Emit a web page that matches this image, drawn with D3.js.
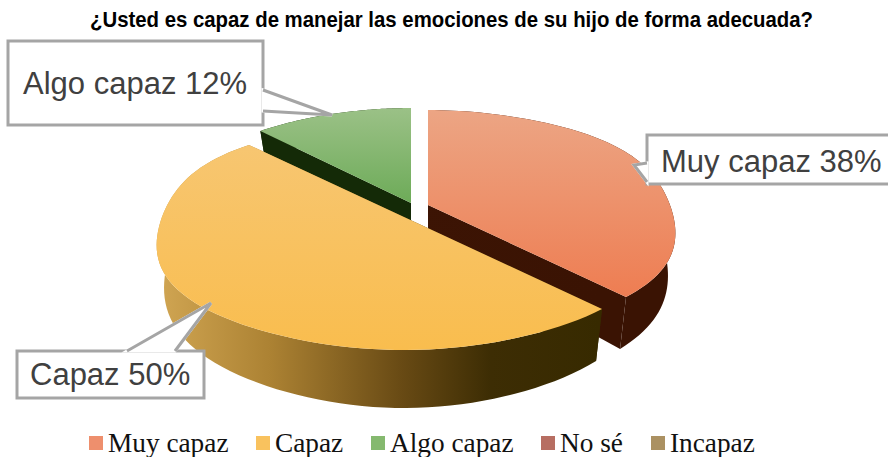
<!doctype html>
<html>
<head>
<meta charset="utf-8">
<title>Manejo de emociones</title>
<style>
  html, body { margin: 0; padding: 0; background: #fff; }
  svg { display: block; }
</style>
<script src="https://cdnjs.cloudflare.com/ajax/libs/d3/7.8.5/d3.min.js"></script>
</head>
<body>
<script>
// data
var titleText = "¿Usted es capaz de manejar las emociones de su hijo de forma adecuada?";
var categories = ["Muy capaz", "Capaz", "Algo capaz", "No sé", "Incapaz"];
var values = [38, 50, 12, 0, 0];
var legendColors = ["#ee8f6d", "#f9c25e", "#85b96f", "#b76e62", "#ab9162"];

// layout of the exploded slices, and the callouts
var width = 888, height = 457;
var persp = { a: 242, b: 110.8, k: 0.167, dropY: 38.6, scaleX: 0.97, scaleY: 1.146 };
var apex = { "Muy capaz": [428, 205], "Capaz": [404, 217], "Algo capaz": [411, 203] };
var bulge = { "Muy capaz": 0.05, "Capaz": 0.05, "Algo capaz": 0.02 };
var drawOrder = ["Algo capaz", "Muy capaz", "Capaz"];
var topStops = {
  "Muy capaz": ["#eca584", "#ee7d52"],
  "Capaz": ["#f7c671", "#f9bd4e"],
  "Algo capaz": ["#9bc187", "#6dab58"]
};
var sideStops = {
  "Muy capaz": [[0, "#3f1505"], [1, "#3a1303"]],
  "Capaz": [[0, "#d0a552"], [0.25, "#ac8233"], [0.55, "#684a14"], [0.75, "#3d2d04"], [1, "#372a00"]],
  "Algo capaz": [[0, "#142a07"], [1, "#142a07"]]
};
var callouts = [
  { cat: "Algo capaz", box: [8, 41, 263, 125], ptr: [[263, 90], [332, 115], [263, 111]], tx: 23, ty: 94 },
  { cat: "Muy capaz", box: [647, 135, 893, 184], ptr: [[647, 163], [634, 165], [647, 182]], tx: 661, ty: 172 },
  { cat: "Capaz", box: [17, 351, 204, 398], ptr: [[127, 351], [211, 303], [175, 351]], tx: 30, ty: 385 }
];
var legendX = [89, 256, 371, 541, 651];

var svg = d3.select("body").append("svg")
  .attr("width", width)
  .attr("height", height);
var defs = svg.append("defs");

svg.append("text")
  .attr("x", 90).attr("y", 27)
  .attr("font-family", "Liberation Sans")
  .attr("font-weight", "bold")
  .attr("font-size", 22)
  .attr("textLength", 723)
  .attr("lengthAdjust", "spacingAndGlyphs")
  .attr("fill", "#000")
  .text(titleText);

var pie = d3.pie().sort(null).startAngle(0).endAngle(2 * Math.PI);
var arcs = pie(values);
var line = d3.line();

// circle in the pie's plane -> screen, with some perspective
function project(theta, cat, bottom) {
  var p = apex[cat];
  var x = Math.sin(theta), y = -Math.cos(theta);
  var d = 1 - persp.k * y;
  var s2 = Math.sin(2 * theta);
  var sx = persp.a * x * (1 + bulge[cat] * s2 * s2) / d;
  var sy = persp.b * y / d;
  if (bottom) return [p[0] + persp.scaleX * sx, p[1] + persp.dropY + persp.scaleY * sy];
  return [p[0] + sx, p[1] + sy];
}

function rim(d, cat, bottom) {
  var n = 80;
  return d3.range(n + 1).map(function(i) {
    return project(d.startAngle + (d.endAngle - d.startAngle) * i / n, cat, bottom);
  });
}

function gradient(id, x1, y1, x2, y2, stops) {
  var g = defs.append("linearGradient").attr("id", id)
    .attr("gradientUnits", "userSpaceOnUse")
    .attr("x1", x1).attr("y1", y1).attr("x2", x2).attr("y2", y2);
  stops.forEach(function(s) {
    g.append("stop").attr("offset", s[0]).attr("stop-color", s[1]);
  });
  return "url(#" + id + ")";
}

drawOrder.forEach(function(cat, n) {
  var d = arcs[categories.indexOf(cat)];
  var p = apex[cat];
  var topRim = rim(d, cat, false), botRim = rim(d, cat, true);
  var top2 = [p[0], p[1]], bot2 = [p[0], p[1] + persp.dropY];
  var g = svg.append("g").attr("class", "slice");

  var side = gradient("side" + n, 160, 0, 600, 0, sideStops[cat]);
  // outer wall
  g.append("path")
    .attr("d", line(topRim.concat(botRim.slice().reverse())) + "Z")
    .attr("fill", side);
  // the two cut faces
  [0, topRim.length - 1].forEach(function(i) {
    g.append("path")
      .attr("d", line([top2, topRim[i], botRim[i], bot2]) + "Z")
      .attr("fill", side);
  });
  // top face
  var ys = topRim.map(function(q) { return q[1]; }).concat(p[1]);
  g.append("path")
    .attr("d", line([top2].concat(topRim)) + "Z")
    .attr("fill", gradient("top" + n, 0, d3.min(ys), 0, d3.max(ys), [[0, topStops[cat][0]], [1, topStops[cat][1]]]));
});

// callouts
callouts.forEach(function(c) {
  var i = categories.indexOf(c.cat), b = c.box;
  var g = svg.append("g").attr("class", "callout");
  g.append("rect")
    .attr("x", b[0]).attr("y", b[1])
    .attr("width", b[2] - b[0]).attr("height", b[3] - b[1])
    .attr("fill", "#fff").attr("stroke", "#a5a5a5").attr("stroke-width", 3);
  // white wedge hides the box border under the pointer, then its two sides
  g.append("path")
    .attr("d", line(c.ptr) + "Z")
    .attr("fill", "#fff").attr("stroke", "#fff").attr("stroke-width", 3);
  g.append("path")
    .attr("d", line(c.ptr))
    .attr("fill", "none").attr("stroke", "#a5a5a5").attr("stroke-width", 3);
  g.append("text")
    .attr("x", c.tx).attr("y", c.ty)
    .attr("font-family", "Liberation Sans")
    .attr("font-size", 31)
    .attr("fill", "#404040")
    .text(c.cat + " " + values[i] + "%");
});

// legend
var legend = svg.append("g").selectAll("g").data(categories).enter().append("g")
  .attr("transform", function(d, i) { return "translate(" + legendX[i] + ",436)"; });
legend.append("rect")
  .attr("width", 14).attr("height", 14)
  .attr("fill", function(d, i) { return legendColors[i]; });
legend.append("text")
  .attr("x", 19).attr("y", 16)
  .attr("font-family", "Liberation Serif")
  .attr("font-size", 27.3)
  .attr("fill", "#111")
  .text(function(d) { return d; });
</script>
</body>
</html>
